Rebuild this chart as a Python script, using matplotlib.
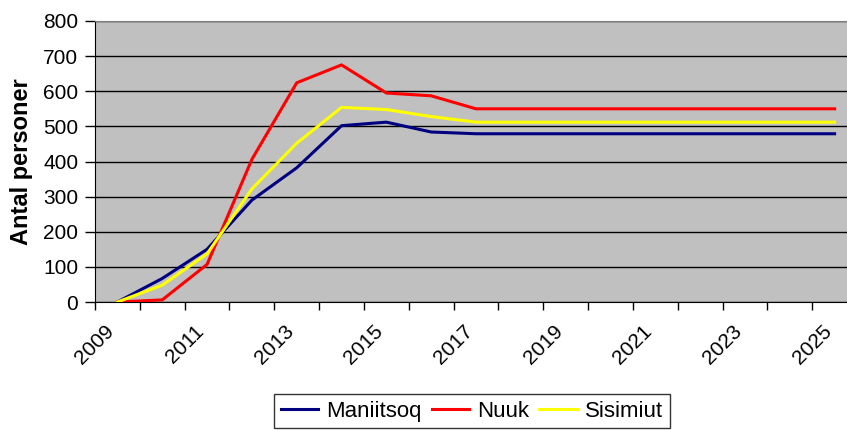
import numpy as np
import matplotlib
matplotlib.use("Agg")
import matplotlib.pyplot as plt
import matplotlib.transforms as mtransforms

# ── data ─────────────────────────────────────────────────────────────────────
years = [str(y) for y in range(2009, 2026)]
maniitsoq = [0, 67, 150, 290, 382, 502, 512, 484, 479, 479, 479, 479, 479, 479, 479, 479, 479]
nuuk      = [0, 6, 107, 406, 624, 675, 595, 587, 550, 550, 550, 550, 550, 550, 550, 550, 550]
sisimiut  = [0, 48, 137, 322, 452, 554, 548, 528, 512, 512, 512, 512, 512, 512, 512, 512, 512]
y_ticks   = [0, 100, 200, 300, 400, 500, 600, 700, 800]

plt.rcParams["font.family"] = ["Liberation Sans", "DejaVu Sans"]

W, H = 847, 430
fig = plt.figure(figsize=(W / 100, H / 100), dpi=100)
# plot area runs past the right edge in the reference (cropped)
ax = fig.add_axes([95 / W, 1 - 302 / H, (857 - 95) / W, (302 - 21) / H])
ax.set_facecolor("#C0C0C0")

x = np.arange(len(years))
ax.plot(x, maniitsoq, color="#000080", lw=2.2, label="Maniitsoq", zorder=3)
ax.plot(x, nuuk,      color="#FF0000", lw=2.2, label="Nuuk", zorder=3)
ax.plot(x, sisimiut,  color="#FFFF00", lw=2.2, label="Sisimiut", zorder=3)

ax.set_xlim(-0.5, len(years) - 0.5)
ax.set_ylim(0, 800)
ax.set_yticks(y_ticks)
ax.yaxis.grid(True, color="black", lw=1)
ax.set_axisbelow(True)

# tick marks between categories, labels on every second category
ax.set_xticks(np.arange(-0.5, len(years), 1.0))
ax.set_xticklabels([])
ax.set_xticks(x[::2], minor=True)
ax.set_xticklabels(years[::2], minor=True, rotation=45, ha="right",
                   va="center", rotation_mode="anchor", fontsize=15)
ax.tick_params(axis="x", which="minor", length=0, pad=19)
ax.tick_params(axis="x", which="major", length=6, width=1, direction="out")
ax.tick_params(axis="y", length=7, width=1, labelsize=15, pad=5)

shift = mtransforms.ScaledTranslation(-6 / 100, 0, fig.dpi_scale_trans)
for lab in ax.get_xticklabels(minor=True):
    lab.set_transform(lab.get_transform() + shift)

for s in ["top", "right"]:
    ax.spines[s].set_color("#808080")
for s in ["left", "bottom"]:
    ax.spines[s].set_color("black")

ax.set_ylabel("Antal personer", fontsize=17, fontweight="bold", labelpad=7)

fig.legend(loc="upper left", bbox_to_anchor=(274 / W, 1 - 394 / H), ncol=3,
           fontsize=16, frameon=True, fancybox=False, edgecolor="black",
           handlelength=1.7, handletextpad=0.35, columnspacing=0.45,
           borderpad=0.3, borderaxespad=0)

fig.savefig("out.png", dpi=100)
